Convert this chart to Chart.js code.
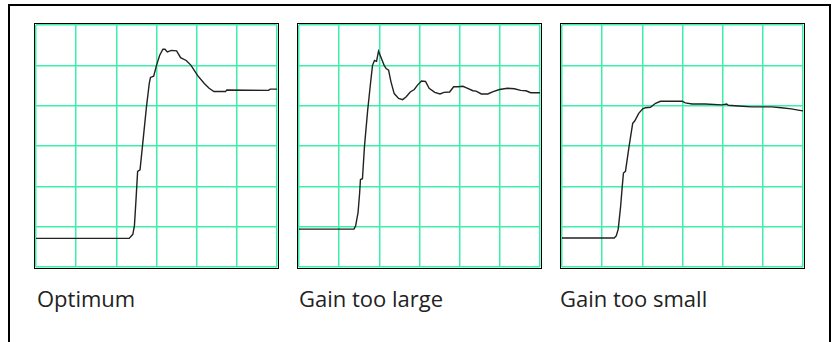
<!DOCTYPE html>
<html>
<head>
<meta charset="utf-8">
<script src="https://cdn.jsdelivr.net/npm/chart.js@4"></script>
<style>
  html, body { margin: 0; padding: 0; background: #fff; overflow: hidden; }
  body { width: 834px; height: 342px; position: relative; }
  #frame {
    position: absolute; left: 8px; top: 4px;
    width: 819px; height: 400px;
    border: 2px solid #000;
  }
  .panel {
    position: absolute; top: 23px;
    width: 243px; height: 244px;
    border: 1px solid #000;
  }
  .panel canvas { display: block; }
  .label {
    position: absolute; top: 283px;
    font-family: "Open Sans", sans-serif;
    font-size: 22px; color: #222;
    white-space: nowrap;
  }
</style>
</head>
<body>
<div id="frame"></div>
<div class="panel" style="left:34px"><canvas id="c1" width="243" height="244"></canvas></div>
<div class="panel" style="left:297px"><canvas id="c2" width="243" height="244"></canvas></div>
<div class="panel" style="left:560px"><canvas id="c3" width="243" height="244"></canvas></div>
<div class="label" style="left:37px">Optimum</div>
<div class="label" style="left:299px">Gain too large</div>
<div class="label" style="left:560px">Gain too small</div>

<script>
// step responses, in screen divisions (6 x 6 grid)
const optimumX = [0, 2.32, 2.41, 2.45, 2.49, 2.53, 2.59, 2.65, 2.75, 2.82, 2.85, 2.93, 3.0, 3.08, 3.16, 3.21, 3.27, 3.37, 3.50, 3.60, 3.74, 3.86, 4.02, 4.19, 4.31, 4.43, 4.72, 4.75, 5.79, 5.83, 6.0];
const optimumY = [0.71, 0.71, 0.81, 1.02, 1.67, 2.37, 2.41, 2.99, 3.97, 4.55, 4.70, 4.73, 5.0, 5.25, 5.40, 5.40, 5.33, 5.37, 5.36, 5.19, 5.12, 5.0, 4.75, 4.55, 4.43, 4.35, 4.35, 4.39, 4.38, 4.41, 4.41];

const largeX = [0, 1.37, 1.41, 1.47, 1.51, 1.53, 1.58, 1.63, 1.71, 1.78, 1.83, 1.88, 1.93, 1.98, 2.02, 2.12, 2.17, 2.23, 2.29, 2.37, 2.48, 2.58, 2.67, 2.77, 2.87, 2.95, 3.05, 3.15, 3.24, 3.38, 3.51, 3.61, 3.75, 3.85, 3.96, 4.08, 4.20, 4.33, 4.41, 4.54, 4.70, 4.82, 4.99, 5.19, 5.36, 5.52, 5.65, 5.77, 6.0];
const largeY = [0.94, 0.94, 1.02, 1.35, 1.84, 2.17, 2.19, 2.99, 3.89, 4.55, 5.0, 5.12, 5.10, 5.35, 5.25, 5.0, 4.92, 4.88, 4.59, 4.30, 4.18, 4.15, 4.22, 4.34, 4.40, 4.51, 4.61, 4.60, 4.43, 4.33, 4.29, 4.33, 4.34, 4.47, 4.47, 4.48, 4.43, 4.37, 4.36, 4.29, 4.29, 4.34, 4.40, 4.43, 4.42, 4.38, 4.37, 4.32, 4.32];

const smallX = [0, 1.30, 1.35, 1.40, 1.46, 1.50, 1.53, 1.58, 1.67, 1.76, 1.81, 1.91, 2.01, 2.08, 2.20, 2.33, 2.45, 2.70, 2.99, 3.07, 3.24, 3.56, 3.98, 4.10, 4.14, 4.39, 4.72, 4.97, 5.22, 5.46, 5.71, 5.88, 6.0];
const smallY = [0.72, 0.72, 0.77, 0.94, 1.51, 2.00, 2.33, 2.37, 2.99, 3.56, 3.62, 3.81, 3.92, 3.95, 3.96, 4.06, 4.11, 4.11, 4.11, 4.07, 4.04, 4.04, 4.02, 4.04, 4.01, 3.99, 3.97, 3.97, 3.97, 3.95, 3.92, 3.89, 3.87];

const gridColor = '#3cf0aa';

function makeScope(id, xs, ys) {
  const pts = xs.map((x, i) => ({ x: x, y: ys[i] }));
  const axis = {
    type: 'linear',
    min: 0,
    max: 6,
    ticks: { display: false, stepSize: 1 },
    grid: { color: gridColor, lineWidth: 1.5, drawTicks: false },
    border: { display: false }
  };
  new Chart(document.getElementById(id), {
    type: 'scatter',
    data: {
      datasets: [{
        data: pts,
        showLine: true,
        borderColor: '#222',
        borderWidth: 1.4,
        pointRadius: 0,
        tension: 0
      }]
    },
    options: {
      responsive: false,
      animation: false,
      layout: { padding: 1 },
      plugins: { legend: { display: false }, tooltip: { enabled: false } },
      scales: { x: axis, y: axis }
    }
  });
}

makeScope('c1', optimumX, optimumY);
makeScope('c2', largeX, largeY);
makeScope('c3', smallX, smallY);
</script>
</body>
</html>
